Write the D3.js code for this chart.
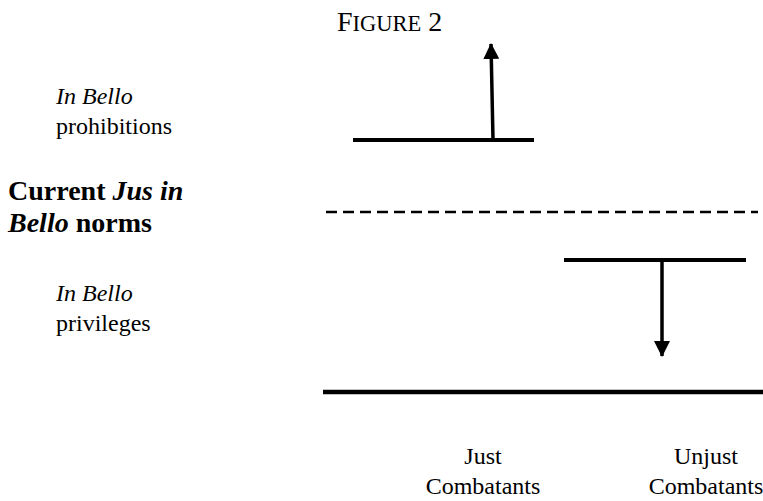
<!DOCTYPE html>
<html>
<head>
<meta charset="utf-8">
<script src="https://cdn.jsdelivr.net/npm/d3@7"></script>
<style>
  body { margin: 0; background: #fff; }
  text { font-family: "Liberation Serif", "Times New Roman", serif; fill: #000; }
</style>
</head>
<body>
<div id="graph"></div>
<script>
const width = 763;
const height = 501;

// norm levels (0 = current jus in bello norms)
const currentLevel = 0;
const baseLevel = -7.5;
const groups = ['Just', 'Unjust'];
const groupSpan = [[30, 211], [241, 423]];
const groupLevel = [3, -2];
const arrowFrom = [[170, 3], [339, -2]];
const arrowTo = [[168, 7], [339, -6]];
const labelPos = [160, 383];
const titleParts = [['F', 28], ['IGURE', 22.5], [' 2', 28]];
const sideLabels = [
  {lv: 4.5, parts: [['In Bello', 'italic', 'normal']], x: 56, size: 24},
  {lv: 3.27, parts: [['prohibitions', 'normal', 'normal']], x: 56, size: 24},
  {lv: 0.5, parts: [['Current ', 'normal', 'bold'], ['Jus in', 'italic', 'bold']], x: 8, size: 28},
  {lv: -0.83, parts: [['Bello', 'italic', 'bold'], [' norms', 'normal', 'bold']], x: 8, size: 28},
  {lv: -3.7, parts: [['In Bello', 'italic', 'normal']], x: 56, size: 24},
  {lv: -4.95, parts: [['privileges', 'normal', 'normal']], x: 56, size: 24}
];

const x = d3.scaleLinear().domain([0, 440]).range([323, 763]);
const y = d3.scaleLinear().domain([-1, 1]).range([236, 188]);

const svg = d3.select('#graph')
  .append('svg')
  .attr('width', width)
  .attr('height', height);

svg.append('defs').append('marker')
    .attr('id', 'arrow')
    .attr('viewBox', '0 -8 16 16')
    .attr('refX', 15)
    .attr('markerUnits', 'userSpaceOnUse')
    .attr('markerWidth', 16)
    .attr('markerHeight', 16)
    .attr('orient', 'auto')
  .append('path')
    .attr('d', 'M0,-8L16,0L0,8Z')
    .attr('fill', '#000');

// title, small caps by hand
svg.append('text')
  .attr('x', 337)
  .attr('y', 31)
  .selectAll('tspan')
  .data(titleParts)
  .join('tspan')
  .attr('xml:space', 'preserve')
  .style('font-size', d => d[1] + 'px')
  .text(d => d[0]);

// dashed current norm line
svg.append('line')
  .attr('x1', x(3)).attr('x2', x(435))
  .attr('y1', y(currentLevel)).attr('y2', y(currentLevel))
  .attr('stroke', '#000')
  .attr('stroke-width', 2.5)
  .attr('stroke-dasharray', '11,6');

// base line
svg.append('line')
  .attr('x1', x(0)).attr('x2', x(440))
  .attr('y1', y(baseLevel)).attr('y2', y(baseLevel))
  .attr('stroke', '#000')
  .attr('stroke-width', 4.5);

// group levels
svg.append('g').selectAll('line')
  .data(groups)
  .join('line')
  .attr('x1', (d, i) => x(groupSpan[i][0]))
  .attr('x2', (d, i) => x(groupSpan[i][1]))
  .attr('y1', (d, i) => y(groupLevel[i]))
  .attr('y2', (d, i) => y(groupLevel[i]))
  .attr('stroke', '#000')
  .attr('stroke-width', 4);

// arrows
svg.append('g').selectAll('line')
  .data(groups)
  .join('line')
  .attr('x1', (d, i) => x(arrowFrom[i][0]))
  .attr('y1', (d, i) => y(arrowFrom[i][1]))
  .attr('x2', (d, i) => x(arrowTo[i][0]))
  .attr('y2', (d, i) => y(arrowTo[i][1]))
  .attr('stroke', '#000')
  .attr('stroke-width', 3.5)
  .attr('marker-end', 'url(#arrow)');

// bottom labels
const lab = svg.append('g').selectAll('text')
  .data(groups)
  .join('text')
  .attr('text-anchor', 'middle')
  .style('font-size', '24px');
lab.append('tspan')
  .attr('x', (d, i) => x(labelPos[i]))
  .attr('y', 464)
  .text(d => d);
lab.append('tspan')
  .attr('x', (d, i) => x(labelPos[i]))
  .attr('y', 494)
  .text('Combatants');

// side labels
const side = svg.append('g').selectAll('text')
  .data(sideLabels)
  .join('text')
  .attr('x', d => d.x)
  .attr('y', d => y(d.lv))
  .style('font-size', d => d.size + 'px');
side.selectAll('tspan')
  .data(d => d.parts)
  .join('tspan')
  .style('font-style', d => d[1])
  .style('font-weight', d => d[2])
  .attr('xml:space', 'preserve')
  .text(d => d[0]);
</script>
</body>
</html>
